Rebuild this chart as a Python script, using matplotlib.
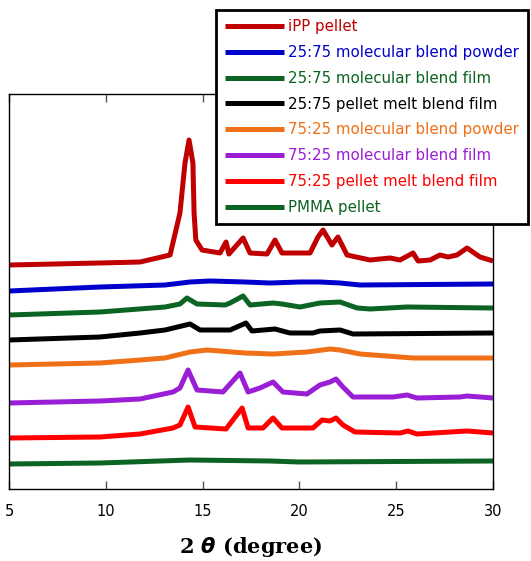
import matplotlib
matplotlib.use("Agg")
import matplotlib.pyplot as plt

# ---- data (2theta in degrees, intensity in arbitrary offset units) ----
ipp_x = [5.0, 9.70, 11.77, 13.32, 13.83, 14.09, 14.30, 14.50, 14.56, 14.65, 14.97, 15.90, 16.21, 16.36,
         17.09, 17.45, 18.33, 18.74, 19.10, 20.55, 20.96, 21.22, 21.68, 21.99, 22.46, 23.65, 24.68,
         25.20, 25.87, 26.13, 26.75, 27.26, 27.68, 28.14, 28.66, 29.33, 30.0]
ipp_y = [224, 226, 227, 234, 276, 326, 349, 326, 276, 249, 239, 236, 247, 235,
         251, 236, 235, 249, 236, 236, 252, 259, 244, 252, 234, 229, 231,
         229, 236, 228, 229, 234, 232, 234, 241, 232, 228]

b2575_powder_x = [5.0, 9.70, 13.06, 14.35, 15.38, 17.19, 18.48, 20.03, 21.06, 22.10, 23.13, 30.0]
b2575_powder_y = [198, 202, 204, 207, 208, 207, 206, 207, 207, 206, 204, 205]

b2575_film_x = [5.0, 9.70, 13.06, 13.83, 14.19, 14.71, 16.16, 16.42, 17.09, 17.45, 18.64, 19.10,
                20.03, 21.06, 22.10, 22.98, 23.65, 25.56, 30.0]
b2575_film_y = [174, 177, 182, 185, 191, 185, 184, 186, 193, 184, 186, 185,
                182, 186, 187, 181, 180, 182, 181]

b2575_melt_x = [5.0, 9.70, 11.77, 13.06, 14.35, 14.87, 16.42, 17.24, 17.55, 18.74, 19.51, 20.70,
                21.06, 22.10, 22.77, 30.0]
b2575_melt_y = [149, 152, 156, 159, 165, 159, 159, 166, 158, 160, 156, 156,
                158, 159, 155, 156]

b7525_powder_x = [5.0, 9.70, 11.77, 13.06, 14.35, 15.23, 17.19, 18.64, 20.39, 21.58, 22.10, 23.13, 25.87, 30.0]
b7525_powder_y = [124, 126, 129, 131, 137, 139, 136, 135, 137, 140, 139, 135, 131, 131]

b7525_film_x = [5.0, 9.70, 11.77, 13.47, 13.83, 14.25, 14.71, 16.05, 16.93, 17.35, 17.96, 18.64,
                19.15, 20.39, 21.06, 21.58, 21.89, 22.25, 22.77, 24.83, 25.56, 26.07, 28.30, 28.66, 30.0]
b7525_film_y = [86, 88, 90, 97, 101, 119, 99, 97, 116, 97, 101, 107,
                97, 95, 104, 107, 110, 102, 92, 92, 94, 91, 92, 93, 91]

b7525_melt_x = [5.0, 9.70, 11.77, 13.47, 13.83, 14.25, 14.61, 16.21, 17.04, 17.35, 18.12, 18.64,
                19.10, 20.70, 21.17, 21.58, 21.89, 22.25, 22.87, 25.20, 25.61, 26.07, 28.66, 30.0]
b7525_melt_y = [51, 52, 55, 61, 64, 82, 62, 60, 81, 61, 61, 71,
                61, 61, 69, 68, 71, 64, 57, 56, 58, 55, 58, 56]

pmma_x = [5.0, 9.70, 14.35, 18.48, 20.0, 30.0]
pmma_y = [25, 26, 29, 28, 27, 28]

labels = ["iPP pellet", "25:75 molecular blend powder", "25:75 molecular blend film",
          "25:75 pellet melt blend film", "75:25 molecular blend powder",
          "75:25 molecular blend film", "75:25 pellet melt blend film", "PMMA pellet"]
colors = ["#C00000", "#0000CC", "#0B6421", "#000000", "#F07018", "#9A1ED6", "#FF0000", "#0B6421"]
xticks = [5, 10, 15, 20, 25, 30]

series = [(ipp_x, ipp_y), (b2575_powder_x, b2575_powder_y), (b2575_film_x, b2575_film_y),
          (b2575_melt_x, b2575_melt_y), (b7525_powder_x, b7525_powder_y),
          (b7525_film_x, b7525_film_y), (b7525_melt_x, b7525_melt_y), (pmma_x, pmma_y)]

W, H = 531, 561
fig = plt.figure(figsize=(W / 100, H / 100), dpi=100)
ax = fig.add_axes([9 / W, 1 - 489 / H, (493 - 9) / W, (489 - 94) / H])

handles = []
for (xs, ys), lab, c in zip(series, labels, colors):
    h, = ax.plot(xs, ys, color=c, lw=3.6, label=lab, solid_joinstyle="round", solid_capstyle="butt")
    handles.append(h)

ax.set_xlim(5, 30)
ax.set_ylim(0, 395)
ax.set_yticks([])
ax.set_xticks(xticks)
ax.set_xticklabels([str(t) for t in xticks])
ax.tick_params(axis="x", direction="in", top=True, bottom=True, length=6, width=1,
               color="#555555", labelsize=10.5, pad=11)
for s in ax.spines.values():
    s.set_linewidth(1.0)
    s.set_color("black")

ax.set_xlabel(r"2 $\boldsymbol{\theta}$ (degree)", fontsize=15, fontweight="bold",
              family="DejaVu Serif", labelpad=11)

leg = fig.legend(handles=handles, labels=labels, loc="upper right",
                 bbox_to_anchor=(528 / W, 1 - 10 / H), bbox_transform=fig.transFigure,
                 handlelength=3.9, handletextpad=0.28, labelspacing=0.72,
                 borderpad=0.62, borderaxespad=0.0, fancybox=False, framealpha=1, edgecolor="black",
                 labelcolor="linecolor", prop={"family": "DejaVu Sans", "size": 10.8})
leg.get_frame().set_linewidth(2.0)

fig.savefig("out.png", dpi=100)
